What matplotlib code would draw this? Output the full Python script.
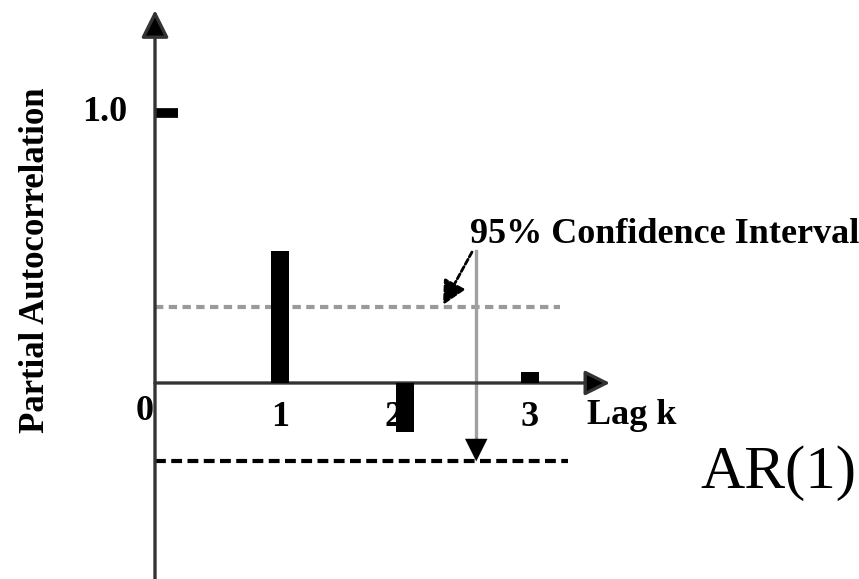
import matplotlib
matplotlib.use("Agg")
import matplotlib.pyplot as plt

# ---- data ----
lags = [1, 2, 3]
pacf = [0.49, -0.18, 0.04]
upper_ci = 0.28
lower_ci = -0.29
tick_labels = ["0", "1", "2", "3"]
ylabel = "Partial Autocorrelation"
xlabel = "Lag k"
ci_label = "95% Confidence Interval"
title = "AR(1)"

SERIF = ["Liberation Serif", "DejaVu Serif"]

fig = plt.figure(figsize=(8.59, 5.79), dpi=100)
ax = fig.add_axes([0, 0, 1, 1])
ax.set_xlim(-1.24, 5.632)
ax.set_ylim(-0.726, 1.4185)
ax.axis("off")

axis_col = "#333333"
# y axis with arrow
ax.annotate("", xy=(0, 1.381), xytext=(0, -0.73),
            arrowprops=dict(arrowstyle="-|>,head_length=0.8,head_width=0.4",
                            mutation_scale=21, lw=2.4, color=axis_col,
                            fc="black", shrinkA=0, shrinkB=0))
# x axis with arrow
ax.annotate("", xy=(3.64, 0), xytext=(0, 0),
            arrowprops=dict(arrowstyle="-|>,head_length=0.8,head_width=0.4",
                            mutation_scale=19, lw=2.4, color=axis_col,
                            fc="black", shrinkA=0, shrinkB=0))
# tick at 1.0
ax.plot([0, 0.18], [1.0, 1.0], color="black", lw=7, solid_capstyle="butt")

# confidence interval lines
ax.plot([0, 3.24], [upper_ci, upper_ci], color="#9a9a9a", lw=3,
        linestyle=(0, (2, 1.3)))
ax.plot([0, 3.3], [lower_ci, lower_ci], color="black", lw=3,
        linestyle=(0, (2.6, 1.3)))

# bars
ax.bar(lags, pacf, width=0.15, color="black", zorder=3)

# tick labels
ax.text(-0.08, -0.137, tick_labels[0], family=SERIF, fontsize=26,
        ha="center", va="baseline", fontweight="bold", zorder=2)
for lag, lab in zip(lags, tick_labels[1:]):
    xoff = -0.09 if lab == "2" else 0.0
    ax.text(lag + xoff, -0.159, lab, family=SERIF, fontsize=26,
            ha="center", va="baseline", fontweight="bold", zorder=2)
ax.text(-0.224, 1.0, "1.0", family=SERIF, fontsize=26, ha="right",
        va="center", fontweight="bold")

# axis labels
ax.text(-0.96, 0.455, ylabel, family=SERIF, fontsize=25, rotation=90,
        ha="center", va="center", fontweight="bold")
ax.text(3.456, -0.152, xlabel, family=SERIF, fontsize=26, ha="left",
        va="baseline", fontweight="bold")

# CI annotation
ax.text(2.52, 0.519, ci_label, family=SERIF, fontsize=26, ha="left",
        va="baseline", fontweight="bold")
ax.plot([2.57, 2.57], [0.49, lower_ci + 0.08], color="#a0a0a0", lw=2.4)
ax.annotate("", xy=(2.57, lower_ci), xytext=(2.57, lower_ci + 0.09),
            arrowprops=dict(arrowstyle="-|>,head_length=0.8,head_width=0.4",
                            mutation_scale=20, lw=0.1, color="black",
                            shrinkA=0, shrinkB=0))
ax.annotate("", xy=(2.304, 0.289), xytext=(2.536, 0.485),
            arrowprops=dict(arrowstyle="-|>,head_length=0.8,head_width=0.4",
                            mutation_scale=18, lw=2.0, color="black",
                            linestyle=(0, (2, 1)), shrinkA=0, shrinkB=0))

# big title
ax.text(4.36, -0.389, title, family=SERIF, fontsize=44, ha="left",
        va="baseline")

fig.savefig("out.png", dpi=100)
